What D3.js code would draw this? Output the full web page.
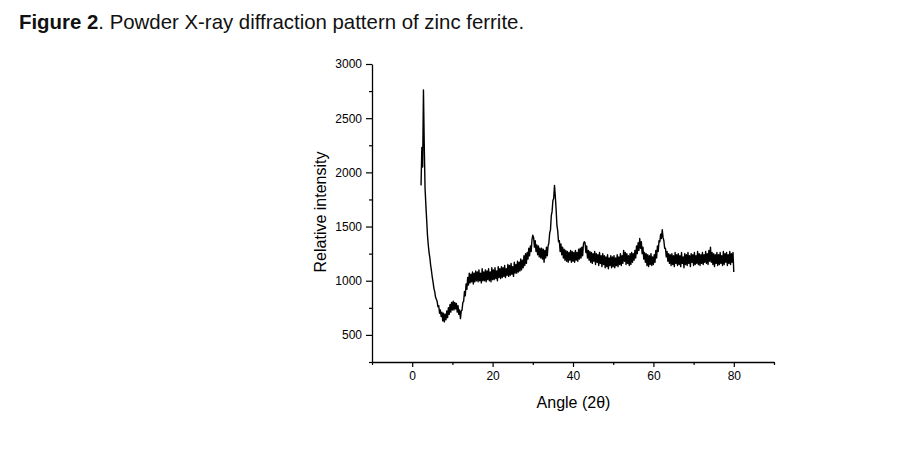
<!DOCTYPE html>
<html>
<head>
<meta charset="utf-8">
<script src="https://cdn.jsdelivr.net/npm/d3@7"></script>
<style>
  html, body { margin: 0; padding: 0; background: #fff; }
  svg { display: block; }
  .tick text { font-family: "Liberation Sans", Arial, sans-serif; }
</style>
</head>
<body>
<svg id="chart" width="919" height="460"></svg>
<script>
// ---- Data ----
const titleBold = "Figure 2";
const titleRest = ". Powder X-ray diffraction pattern of zinc ferrite.";
const xLabel = "Angle (2θ)";
const yLabel = "Relative intensity";

const xDomain = [-10, 90];
const yDomain = [250, 3000];
const xMajorTicks = [0, 20, 40, 60, 80];
const xMinorTicks = [-10, 10, 30, 50, 70, 90];
const yMajorTicks = [500, 1000, 1500, 2000, 2500, 3000];
const yMinorTicks = [250, 750, 1250, 1750, 2250, 2750];

// Scan: first angle and step (degrees 2θ), then intensities
const angleStart = 2.2;
const angleStep = 0.2;
const intensity = [
  1880, 2230, 2050, 2760, 2250, 1850, 1700, 1560, 1420, 1330,
  1260, 1210, 1140, 1090, 1030, 985, 930, 900, 850, 830,
  810, 760, 770, 700, 730, 670, 710, 630, 700, 620,
  690, 640, 720, 660, 750, 690, 780, 710, 800, 730,
  810, 730, 800, 740, 790, 710, 770, 690, 730, 650,
  720, 730, 800, 810, 900, 860, 970, 920, 1030, 960,
  1070, 980, 1060, 990, 1080, 970, 1070, 990, 1090, 1000,
  1080, 990, 1100, 1000, 1070, 980, 1110, 1000, 1080, 1000,
  1100, 990, 1090, 1010, 1110, 1000, 1080, 990, 1120, 1010,
  1100, 1010, 1120, 1020, 1090, 1000, 1130, 1030, 1110, 1020,
  1130, 1030, 1120, 1040, 1140, 1030, 1110, 1050, 1150, 1040,
  1140, 1050, 1160, 1060, 1130, 1040, 1170, 1070, 1150, 1070,
  1180, 1080, 1170, 1090, 1200, 1100, 1190, 1120, 1230, 1140,
  1250, 1160, 1260, 1200, 1300, 1230, 1320, 1270, 1380, 1420,
  1400, 1310, 1370, 1270, 1330, 1240, 1320, 1220, 1300, 1210,
  1300, 1200, 1290, 1170, 1280, 1210, 1310, 1230, 1320, 1350,
  1440, 1470, 1600, 1640, 1740, 1760, 1880, 1780, 1660, 1510,
  1460, 1360, 1370, 1270, 1340, 1240, 1310, 1210, 1290, 1190,
  1280, 1180, 1270, 1170, 1260, 1190, 1280, 1170, 1270, 1180,
  1260, 1170, 1280, 1190, 1260, 1180, 1290, 1200, 1300, 1210,
  1310, 1230, 1340, 1360, 1350, 1260, 1320, 1210, 1280, 1190,
  1270, 1170, 1260, 1160, 1250, 1180, 1270, 1150, 1250, 1170,
  1240, 1140, 1260, 1160, 1230, 1130, 1250, 1150, 1230, 1120,
  1220, 1130, 1240, 1110, 1210, 1140, 1230, 1120, 1220, 1130,
  1230, 1120, 1210, 1140, 1240, 1130, 1220, 1150, 1250, 1140,
  1230, 1160, 1280, 1180, 1260, 1150, 1250, 1160, 1230, 1140,
  1250, 1150, 1260, 1170, 1250, 1190, 1280, 1210, 1320, 1250,
  1350, 1280, 1390, 1300, 1360, 1250, 1310, 1200, 1260, 1170,
  1250, 1140, 1240, 1130, 1230, 1150, 1250, 1140, 1220, 1150,
  1240, 1170, 1280, 1210, 1320, 1270, 1370, 1360, 1430, 1390,
  1470, 1400, 1370, 1300, 1300, 1220, 1270, 1180, 1250, 1160,
  1240, 1140, 1250, 1150, 1230, 1130, 1260, 1160, 1240, 1140,
  1250, 1150, 1230, 1130, 1260, 1160, 1220, 1120, 1250, 1150,
  1240, 1140, 1260, 1160, 1230, 1130, 1250, 1170, 1240, 1140,
  1260, 1150, 1230, 1160, 1270, 1150, 1250, 1140, 1240, 1160,
  1260, 1150, 1240, 1170, 1270, 1160, 1250, 1150, 1280, 1180,
  1310, 1170, 1260, 1150, 1250, 1130, 1240, 1160, 1260, 1140,
  1240, 1150, 1260, 1160, 1230, 1140, 1270, 1150, 1250, 1170,
  1260, 1140, 1240, 1160, 1270, 1150, 1250, 1170, 1260, 1080
];

// ---- Layout ----
const svg = d3.select("#chart");
const plot = { left: 372, top: 64, right: 774, bottom: 362 };

const x = d3.scaleLinear().domain(xDomain).range([plot.left, plot.right]);
const y = d3.scaleLinear().domain(yDomain).range([plot.bottom, plot.top]);

const points = intensity.map((v, i) => ({ a: angleStart + i * angleStep, v }));

// Title
const title = svg.append("text")
  .attr("x", 19).attr("y", 29)
  .attr("font-family", "'Liberation Sans', Arial, sans-serif")
  .attr("font-size", 20.4)
  .attr("fill", "#111");
title.append("tspan").attr("font-weight", "bold").text(titleBold);
title.append("tspan").text(titleRest);

// Data line
svg.append("path")
  .datum(points)
  .attr("fill", "none")
  .attr("stroke", "#000")
  .attr("stroke-width", 1.4)
  .attr("stroke-linejoin", "round")
  .attr("d", d3.line().x(d => x(d.a)).y(d => y(d.v)));

// Axes
const fontFam = "'Liberation Sans', Arial, sans-serif";
function styleAxis(g) {
  g.selectAll("path.domain").attr("stroke", "#000").attr("stroke-width", 1.3);
  g.selectAll(".tick line").attr("stroke", "#000").attr("stroke-width", 1.2);
  g.selectAll(".tick text").attr("font-size", 12).attr("font-family", fontFam).attr("fill", "#000");
}

const xAxisG = svg.append("g")
  .attr("transform", `translate(0,${plot.bottom})`)
  .call(d3.axisBottom(x).tickValues(xMajorTicks).tickSize(5).tickSizeOuter(0).tickPadding(4).tickFormat(d3.format("d")));
styleAxis(xAxisG);
const xMinorG = svg.append("g")
  .attr("transform", `translate(0,${plot.bottom})`)
  .call(d3.axisBottom(x).tickValues(xMinorTicks).tickSize(3).tickSizeOuter(0).tickFormat(""));
xMinorG.select("path.domain").remove();
styleAxis(xMinorG);

const yAxisG = svg.append("g")
  .attr("transform", `translate(${plot.left},0)`)
  .call(d3.axisLeft(y).tickValues(yMajorTicks).tickSize(6).tickSizeOuter(0).tickPadding(4).tickFormat(d3.format("d")));
styleAxis(yAxisG);
const yMinorG = svg.append("g")
  .attr("transform", `translate(${plot.left},0)`)
  .call(d3.axisLeft(y).tickValues(yMinorTicks).tickSize(3).tickSizeOuter(0).tickFormat(""));
yMinorG.select("path.domain").remove();
styleAxis(yMinorG);

// Axis labels
svg.append("text")
  .attr("x", (plot.left + plot.right) / 2 + 0.5)
  .attr("y", 408)
  .attr("text-anchor", "middle")
  .attr("font-family", fontFam)
  .attr("font-size", 16)
  .attr("fill", "#000")
  .text(xLabel);

svg.append("text")
  .attr("transform", `translate(326,212) rotate(-90)`)
  .attr("text-anchor", "middle")
  .attr("font-family", fontFam)
  .attr("font-size", 16)
  .attr("fill", "#000")
  .text(yLabel);
</script>
</body>
</html>
